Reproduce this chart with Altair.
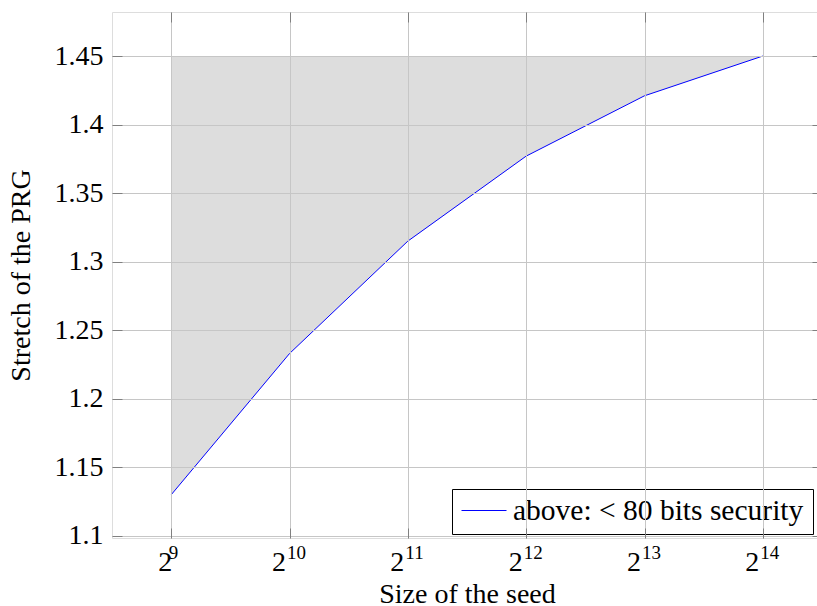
import altair as alt
import pandas as pd

# data
seed_exp = [9, 10, 11, 12, 13, 14]          # seed size = 2^exp
stretch = [1.130, 1.233, 1.315, 1.377, 1.421, 1.450]
upper_bound = 1.45                          # top of the shaded region
y_ticks = [1.1, 1.15, 1.2, 1.25, 1.3, 1.35, 1.4, 1.45]
series_name = "above: < 80 bits security"
x_domain = [8.5, 14.5]
y_domain = [1.0985, 1.4821]

df = pd.DataFrame({
    "exp": seed_exp,
    "stretch": stretch,
    "series": [series_name] * len(seed_exp),
    "base": ["2"] * len(seed_exp),
    "sup": [str(e) for e in seed_exp],
})

FONT = "Liberation Serif"
xs = alt.Scale(domain=x_domain, nice=False, zero=False)
ys = alt.Scale(domain=y_domain, nice=False, zero=False)
TICK = "#808080"
GRID = "#c6c6c6"

main_x_axis = alt.Axis(
    values=seed_exp, labels=False, title="Size of the seed",
    orient="bottom", offset=-10, tickSize=10, tickColor=TICK, tickWidth=1,
    titleFont=FONT, titleFontSize=28, titleFontWeight="normal", titleColor="black",
    titleBaseline="alphabetic", titleAnchor="middle", titleX=355, titleY=74,
    grid=True, gridColor=GRID, gridWidth=1, domain=False, zindex=1,
)
main_y_axis = alt.Axis(
    values=y_ticks, format=".2~f", title="Stretch of the PRG",
    orient="left", offset=-10, tickSize=10, tickColor=TICK, tickWidth=1,
    labelPadding=9, labelFont=FONT, labelFontSize=28, labelColor="black",
    titleFont=FONT, titleFontSize=28, titleFontWeight="normal", titleColor="black",
    titleBaseline="alphabetic", titleAngle=270, titleX=-93, titleY=263,
    grid=True, gridColor=GRID, gridWidth=1, domain=False,
    zindex=1, labelFlush=False,
)
top_axis = alt.Axis(
    values=seed_exp, orient="top", offset=-10, tickSize=10, tickColor=TICK,
    tickWidth=1, labels=False, grid=False, domain=False, title=None, zindex=1,
)
right_axis = alt.Axis(
    values=y_ticks, orient="right", offset=-10, tickSize=10, tickColor=TICK,
    tickWidth=1, labels=False, grid=False, domain=False, title=None, zindex=1,
)

area = alt.Chart(df).mark_area(color="#dddddd", opacity=1).encode(
    x=alt.X("exp:Q", scale=xs, axis=main_x_axis),
    y=alt.Y("stretch:Q", scale=ys, axis=main_y_axis),
    y2=alt.datum(upper_bound),
)

line = alt.Chart(df).mark_line(strokeWidth=1).encode(
    x=alt.X("exp:Q", scale=xs, axis=top_axis),
    y=alt.Y("stretch:Q", scale=ys, axis=right_axis),
    color=alt.Color(
        "series:N",
        scale=alt.Scale(range=["#0000ff"]),
        legend=alt.Legend(
            title=None, orient="none", legendX=340, legendY=477,
            strokeColor="black", fillColor="white", padding=9, cornerRadius=0,
            labelFont=FONT, labelFontSize=29.5, labelColor="black", labelOffset=6,
            symbolType="stroke", symbolSize=2025, symbolStrokeWidth=1,
            clipHeight=25, labelLimit=0,
        ),
    ),
)

# x tick labels "2^n": base "2" and a superscript exponent
base_one = alt.Chart(df).transform_filter("datum.exp < 10").mark_text(
    font=FONT, fontSize=28, align="right", baseline="alphabetic", dy=33, dx=1, color="black"
).encode(
    x=alt.X("exp:Q", scale=xs, axis=None),
    y=alt.datum(y_domain[0], scale=ys, axis=None),
    text="base:N",
)
base_two = alt.Chart(df).transform_filter("datum.exp >= 10").mark_text(
    font=FONT, fontSize=28, align="right", baseline="alphabetic", dy=33, dx=-3.5, color="black"
).encode(
    x=alt.X("exp:Q", scale=xs, axis=None),
    y=alt.datum(y_domain[0], scale=ys, axis=None),
    text="base:N",
)
sups = alt.Chart(df).mark_text(
    font=FONT, fontSize=19, align="left", baseline="alphabetic", dy=20.5, dx=-2.5, color="black"
).encode(
    x=alt.X("exp:Q", scale=xs, axis=None),
    y=alt.datum(y_domain[0], scale=ys, axis=None),
    text="sup:N",
)

chart = alt.layer(area, line, base_one, base_two, sups).resolve_axis(
    x="independent", y="independent"
).properties(
    width=710, height=526,
    autosize=alt.AutoSizeParams(type="none"),
    padding={"left": 112, "top": 12, "right": -5, "bottom": 68},
).configure_view(stroke="black", strokeWidth=1.3).configure(background="white")

chart.save("out.html", embed_options={"renderer": "svg", "actions": False})
